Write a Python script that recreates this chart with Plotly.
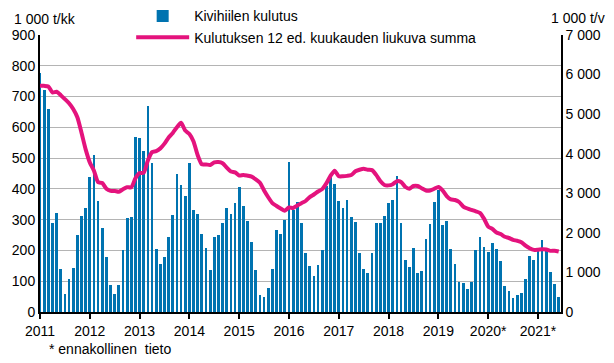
import plotly.graph_objects as go

# Monthly hard coal consumption, 1 000 t per month (Jan 2011 - Jun 2021)
consumption_2011 = [778, 721, 660, 290, 323, 141, 59, 108, 143, 250, 312, 338]
consumption_2012 = [440, 510, 361, 273, 179, 88, 59, 88, 202, 304, 308, 569]
consumption_2013 = [566, 523, 670, 484, 205, 156, 179, 245, 315, 450, 413, 378]
consumption_2014 = [485, 332, 318, 254, 207, 138, 245, 251, 288, 339, 317, 355]
consumption_2015 = [407, 346, 297, 229, 137, 55, 48, 79, 141, 267, 255, 300]
consumption_2016 = [489, 332, 358, 290, 193, 151, 116, 154, 202, 408, 440, 417]
consumption_2017 = [361, 338, 364, 309, 291, 193, 141, 128, 193, 288, 288, 313]
consumption_2018 = [355, 365, 443, 288, 170, 145, 209, 128, 132, 236, 287, 356]
consumption_2019 = [397, 283, 296, 205, 156, 96, 94, 76, 97, 202, 245, 212]
consumption_2020 = [196, 225, 205, 166, 85, 68, 46, 55, 62, 108, 183, 169]
consumption_2021 = [202, 234, 202, 130, 91, 50]

# 12-month moving sum, 1 000 t per year
moving_2011 = [5715, 5715, 5700, 5550, 5565, 5480, 5380, 5275, 5130, 4920, 4530, 4110]
moving_2012 = [3780, 3570, 3280, 3260, 3115, 3060, 3060, 3040, 3100, 3155, 3150, 3380]
moving_2013 = [3510, 3520, 3830, 4040, 4065, 4135, 4255, 4410, 4525, 4670, 4780, 4585]
moving_2014 = [4500, 4310, 3960, 3730, 3730, 3715, 3780, 3790, 3760, 3650, 3550, 3530]
moving_2015 = [3450, 3465, 3445, 3420, 3350, 3265, 3070, 2900, 2750, 2680, 2615, 2560]
moving_2016 = [2640, 2630, 2690, 2750, 2805, 2905, 2970, 3045, 3105, 3250, 3440, 3570]
moving_2017 = [3430, 3430, 3440, 3460, 3555, 3595, 3620, 3595, 3585, 3465, 3310, 3210]
moving_2018 = [3200, 3230, 3305, 3285, 3165, 3115, 3185, 3185, 3125, 3070, 3070, 3115]
moving_2019 = [3160, 3075, 2930, 2845, 2830, 2780, 2665, 2615, 2580, 2545, 2505, 2360]
moving_2020 = [2160, 2100, 2010, 1970, 1900, 1870, 1825, 1800, 1765, 1675, 1610, 1570]
moving_2021 = [1575, 1585, 1580, 1545, 1550, 1530]

year_labels = ["2011", "2012", "2013", "2014", "2015", "2016", "2017", "2018",
               "2019", "2020*", "2021*"]
left_ticks = [0, 100, 200, 300, 400, 500, 600, 700, 800, 900]
right_ticks = [0, 1000, 2000, 3000, 4000, 5000, 6000, 7000]
right_tick_labels = ["0", "1 000", "2 000", "3 000", "4 000", "5 000", "6 000", "7 000"]

consumption = (consumption_2011 + consumption_2012 + consumption_2013 + consumption_2014
               + consumption_2015 + consumption_2016 + consumption_2017 + consumption_2018
               + consumption_2019 + consumption_2020 + consumption_2021)
moving = (moving_2011 + moving_2012 + moving_2013 + moving_2014 + moving_2015 + moving_2016
          + moving_2017 + moving_2018 + moving_2019 + moving_2020 + moving_2021)
month_index = list(range(len(consumption)))
year_ticks = [12 * k for k in range(len(year_labels))]

BLUE = "#0073B0"
PINK = "#E4137D"
FONT = "Liberation Sans, Arial, sans-serif"

fig = go.Figure()
fig.add_trace(go.Bar(
    x=month_index, y=consumption, name="Kivihiilen kulutus",
    marker=dict(color=BLUE, line=dict(width=0)), width=0.66, yaxis="y",
))
fig.add_trace(go.Scatter(
    x=month_index, y=moving, name="Kulutuksen 12 ed. kuukauden liukuva summa",
    mode="lines", line=dict(color=PINK, width=4, shape="spline", smoothing=0.6),
    yaxis="y2",
))

# page has an 8px body margin, so the figure is sized to fit the window
fig.update_layout(
    width=606, height=355,
    margin=dict(l=32, r=53, t=27, b=51, autoexpand=False),
    paper_bgcolor="white", plot_bgcolor="white",
    font=dict(family=FONT, size=14, color="#000000"),
    showlegend=True,
    legend=dict(x=0.175, y=1.125, xanchor="left", yanchor="top",
                bgcolor="white", font=dict(size=14, color="#000000"),
                tracegroupgap=0, itemwidth=53),
    bargap=0,
    xaxis=dict(range=[0, 125.55], tickvals=year_ticks, ticktext=year_labels,
               showgrid=False, zeroline=False, showline=True, linecolor="black",
               linewidth=2, ticks="outside", ticklen=5, tickwidth=1.5, tickcolor="black",
               tickfont=dict(size=14), automargin=False),
    yaxis=dict(range=[0, 900], tickvals=left_ticks, showgrid=True, gridcolor="#B4B4B4",
               gridwidth=1, zeroline=False, showline=True, linecolor="black", linewidth=2,
               ticks="", tickfont=dict(size=14), automargin=False),
    yaxis2=dict(range=[0, 7000], tickvals=right_ticks, ticktext=right_tick_labels,
                overlaying="y", side="right", showgrid=False, zeroline=False,
                showline=True, linecolor="black", linewidth=1.5, ticks="",
                tickfont=dict(size=14), automargin=False),
)

# white band hiding the top grid line behind the legend area
fig.add_shape(type="rect", xref="paper", yref="paper", x0=0.088, x1=0.935,
              y0=0.985, y1=1.02, fillcolor="white", line=dict(width=0), layer="above")

fig.add_annotation(text="1 000 t/kk", xref="paper", yref="paper", x=-0.054, y=1.094,
                   xanchor="left", yanchor="top", showarrow=False, font=dict(size=14))
fig.add_annotation(text="1 000 t/v", xref="paper", yref="paper", x=1.088, y=1.061,
                   xanchor="right", yanchor="middle", showarrow=False, font=dict(size=14))
fig.add_annotation(text="* ennakollinen&nbsp; tieto", xref="paper", yref="paper",
                   x=0.013, y=-0.097, xanchor="left", yanchor="top", showarrow=False,
                   font=dict(size=14))

fig.write_html("out.html")
